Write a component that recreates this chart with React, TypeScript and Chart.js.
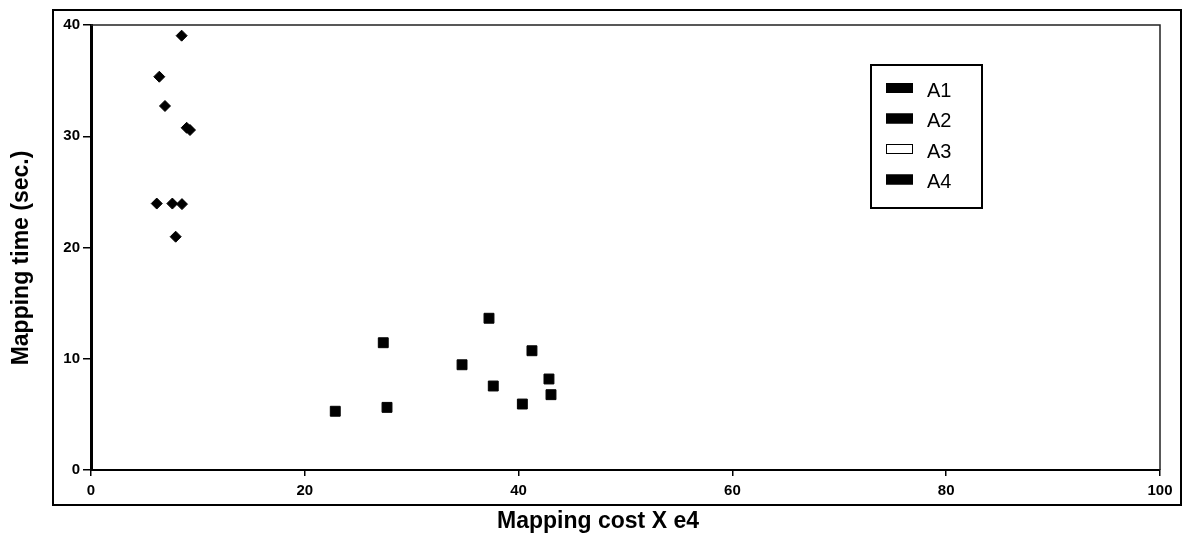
import React, { useEffect, useRef } from "react";
import { Chart, registerables } from "chart.js";

Chart.register(...registerables);

// Series A1 (diamonds)
const a1X = [8.48, 6.39, 6.92, 8.95, 9.26, 6.15, 7.61, 8.51, 7.92];
const a1Y = [39.04, 35.35, 32.72, 30.76, 30.56, 23.95, 23.95, 23.9, 20.97];
// Series A2 (squares)
const a2X = [37.23, 27.34, 41.25, 34.71, 42.84, 37.63, 43.03, 40.35, 27.69, 22.85];
const a2Y = [13.64, 11.44, 10.72, 9.46, 8.18, 7.55, 6.77, 5.93, 5.63, 5.28];
// Series A3, A4 (no visible points)
const a3X: number[] = [];
const a3Y: number[] = [];
const a4X: number[] = [];
const a4Y: number[] = [];

const seriesLabels = ["A1", "A2", "A3", "A4"];
const legendFills = ["#000000", "#000000", "#ffffff", "#000000"];

const xTitle = "Mapping cost X e4";
const yTitle = "Mapping time (sec.)";

function toPoints(xs: number[], ys: number[]) {
  return xs.map((x, i) => ({ x, y: ys[i] }));
}

const decorPlugin = {
  id: "decor",
  afterDraw(chart: any) {
    const ctx = chart.ctx as CanvasRenderingContext2D;
    const ca = chart.chartArea;
    ctx.save();
    // top and right plot borders
    ctx.strokeStyle = "#222";
    ctx.lineWidth = 1.5;
    ctx.beginPath();
    ctx.moveTo(ca.left, ca.top);
    ctx.lineTo(ca.right, ca.top);
    ctx.lineTo(ca.right, ca.bottom);
    ctx.stroke();
    // outer frame
    ctx.strokeStyle = "#000";
    ctx.lineWidth = 2;
    ctx.strokeRect(53, 10, 1128, 495);
    // axis titles
    ctx.fillStyle = "#000";
    ctx.font = "bold 23px 'Liberation Sans', Arial, sans-serif";
    ctx.textAlign = "center";
    ctx.textBaseline = "middle";
    ctx.fillText(xTitle, 598, 522);
    ctx.save();
    ctx.translate(22, 258);
    ctx.rotate(-Math.PI / 2);
    ctx.fillText(yTitle, 0, 0);
    ctx.restore();
    // legend
    ctx.lineWidth = 2;
    ctx.strokeStyle = "#000";
    ctx.fillStyle = "#fff";
    ctx.fillRect(871, 65, 111, 143);
    ctx.strokeRect(871, 65, 111, 143);
    ctx.font = "20px 'Liberation Sans', Arial, sans-serif";
    ctx.textAlign = "left";
    const ds = chart.data.datasets;
    ds.forEach((d: any, i: number) => {
      const cy = 88 + i * 30.5;
      ctx.fillStyle = d.legendFill;
      ctx.fillRect(886, cy - 5, 27, 10);
      ctx.lineWidth = 1;
      ctx.strokeStyle = "#000";
      ctx.strokeRect(886.5, cy - 4.5, 26, 9);
      ctx.fillStyle = "#000";
      ctx.fillText(d.label, 927, cy + 3);
    });
    ctx.restore();
  },
};

export default function App() {
  const ref = useRef<HTMLCanvasElement | null>(null);
  useEffect(() => {
    if (!ref.current) return;
    const tickFont = { family: "'Liberation Sans', Arial, sans-serif", size: 15, weight: "bold" as const };
    const xsList = [a1X, a2X, a3X, a4X];
    const ysList = [a1Y, a2Y, a3Y, a4Y];
    const styles = ["rectRot", "rect", "rect", "rect"];
    const radii = [5.5, 7, 7, 7];
    const chart = new Chart(ref.current, {
      type: "scatter",
      data: {
        datasets: seriesLabels.map((label, i) => ({
          label,
          data: toPoints(xsList[i], ysList[i]),
          pointStyle: styles[i],
          pointRadius: radii[i],
          pointBackgroundColor: "#000",
          pointBorderColor: "#000",
          pointBorderWidth: 1,
          legendFill: legendFills[i],
        })) as any,
      },
      options: {
        animation: false,
        responsive: true,
        maintainAspectRatio: false,
        layout: { padding: { left: 51, right: 28, top: 25, bottom: 48 } },
        plugins: { legend: { display: false }, tooltip: { enabled: false } },
        scales: {
          x: {
            type: "linear",
            min: 0,
            max: 100,
            afterFit: (s: any) => { s.height = 30; },
            ticks: { stepSize: 20, font: tickFont, color: "#000", padding: 6, maxRotation: 0 },
            grid: { display: true, drawOnChartArea: false, tickLength: 6, color: "#000", lineWidth: 1.5 },
            border: { display: true, color: "#000", width: 2 },
            title: { display: false },
          },
          y: {
            type: "linear",
            min: 0,
            max: 40,
            afterFit: (s: any) => { s.width = 40; },
            ticks: { stepSize: 10, font: tickFont, color: "#000", padding: 3 },
            grid: { display: true, drawOnChartArea: false, tickLength: 8, color: "#000", lineWidth: 1.5 },
            border: { display: true, color: "#000", width: 3 },
            title: { display: false },
          },
        },
      },
      plugins: [decorPlugin],
    });
    return () => chart.destroy();
  }, []);
  return (
    <div style={{ position: "fixed", left: 0, top: 0, width: 1188, height: 548, background: "#fff" }}>
      <canvas ref={ref} />
    </div>
  );
}
